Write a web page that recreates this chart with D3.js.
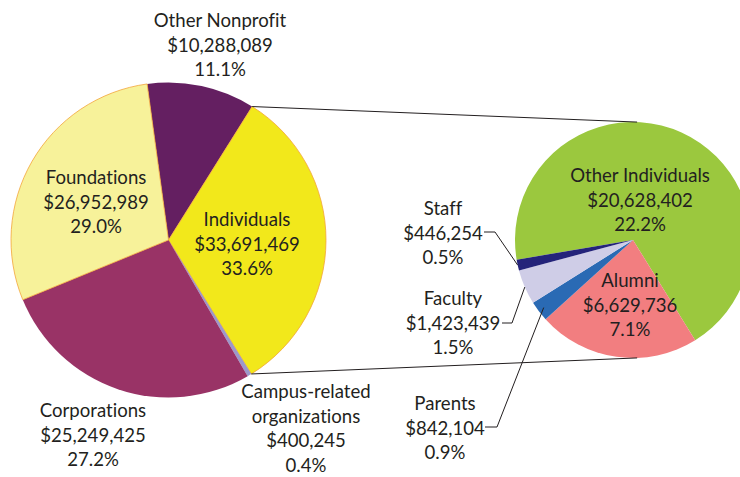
<!DOCTYPE html>
<html lang="en">
<head>
  <meta charset="UTF-8" />
  <title>Sources of Giving</title>
  <script src="https://d3js.org/d3.v7.min.js"></script>
  <style>
    body { margin: 0; background: #fff; }
    svg { display: block; }
    text {
      font-family: Lato, "Noto Sans", sans-serif;
      font-size: 18.6px;
      fill: #231f20;
      font-variant-ligatures: none;
    }
  </style>
</head>
<body>
  <svg id="chart" width="740" height="477"></svg>
  <script>
    // main pie
    const mainCategories = ["Other Nonprofit", "Individuals", "Campus-related organizations", "Corporations", "Foundations"];
    const mainAmounts = [10288089, 33691469, 400245, 25249425, 26952989];
    const mainPercents = ["11.1%", "33.6%", "0.4%", "27.2%", "29.0%"];
    const mainColors = ["#641f61", "#f2e81b", "#9c98ca", "#993366", "#f7f29a"];

    // breakdown of individuals
    const subCategories = ["Other Individuals", "Alumni", "Parents", "Faculty", "Staff"];
    const subAmounts = [20628402, 6629736, 842104, 1423439, 446254];
    const subPercents = ["22.2%", "7.1%", "0.9%", "1.5%", "0.5%"];
    const subColors = ["#9bc83e", "#f27e80", "#2a6ab4", "#cfcde7", "#24237a"];

    const fmt = d3.format("$,");
    const svg = d3.select("#chart");
    const rad = deg => deg * Math.PI / 180;

    // the drawn individuals slice is the sum of its breakdown
    const mainData = mainCategories.map((c, i) => ({
      name: c,
      amount: mainAmounts[i],
      pct: mainPercents[i],
      color: mainColors[i],
      value: c === "Individuals" ? d3.sum(subAmounts) : mainAmounts[i]
    }));
    const subData = subCategories.map((c, i) => ({
      name: c, amount: subAmounts[i], pct: subPercents[i], color: subColors[i], value: subAmounts[i]
    }));

    const M = { cx: 168.5, cy: 240, r: 157.5 };
    const S = { cx: 633, cy: 240, r: 118 };

    const mainStart = rad(-7.8);
    const mainArcs = d3.pie().sort(null).value(d => d.value)
      .startAngle(mainStart).endAngle(mainStart + 2 * Math.PI)(mainData);
    const subStart = rad(-99.6);
    const subArcs = d3.pie().sort(null).value(d => d.value)
      .startAngle(subStart).endAngle(subStart + 2 * Math.PI)(subData);

    const mainArc = d3.arc().innerRadius(0).outerRadius(M.r);
    const subArc = d3.arc().innerRadius(0).outerRadius(S.r);

    const gMain = svg.append("g").attr("transform", `translate(${M.cx},${M.cy})`);
    gMain.selectAll("path")
      .data(mainArcs)
      .join("path")
      .attr("d", mainArc)
      .attr("fill", d => d.data.color)
      .attr("stroke", d => (d.data.name === "Foundations" || d.data.name === "Individuals") ? "#f3a43a" : "none")
      .attr("stroke-width", 0.8);

    const gSub = svg.append("g").attr("transform", `translate(${S.cx},${S.cy})`);
    gSub.selectAll("path")
      .data(subArcs)
      .join("path")
      .attr("d", subArc)
      .attr("fill", d => d.data.color);

    // connector lines from the individuals slice to the breakdown pie
    const ind = mainArcs.find(d => d.data.name === "Individuals");
    const pt = (c, a, r) => [c.cx + r * Math.sin(a), c.cy - r * Math.cos(a)];
    const connectors = [
      [pt(M, ind.startAngle, M.r), pt(S, rad(2), S.r)],
      [pt(M, ind.endAngle, M.r), pt(S, rad(178), S.r)]
    ];
    svg.append("g")
      .selectAll("line")
      .data(connectors)
      .join("line")
      .attr("x1", d => d[0][0]).attr("y1", d => d[0][1])
      .attr("x2", d => d[1][0]).attr("y2", d => d[1][1])
      .attr("stroke", "#231f20")
      .attr("stroke-width", 1);

    // label anchors (center x, first baseline)
    const labelPos = {
      "Other Nonprofit": [220, 27],
      "Individuals": [247, 226],
      "Campus-related organizations": [306, 398],
      "Corporations": [93, 417],
      "Foundations": [96, 184],
      "Other Individuals": [640, 182],
      "Alumni": [630, 287],
      "Parents": [445, 410],
      "Faculty": [453, 305],
      "Staff": [443, 215]
    };
    const lineH = 24.7;

    function addLabel(d) {
      const [x, y] = labelPos[d.name];
      const lines = d.name === "Campus-related organizations"
        ? ["Campus-related", "organizations"] : [d.name];
      lines.push(fmt(d.amount), d.pct);
      const t = svg.append("text").attr("text-anchor", "middle");
      lines.forEach((s, i) => {
        t.append("tspan").attr("x", x).attr("y", y + i * lineH).text(s);
      });
    }
    mainData.forEach(addLabel);
    subData.forEach(addLabel);

    // leader lines for the small slices of the breakdown pie
    const leaders = [
      { name: "Staff", from: [484, 232], elbow: [495, 232], r: S.r },
      { name: "Faculty", from: [502, 323], elbow: [512, 323], r: S.r },
      { name: "Parents", from: [485, 427], elbow: [497, 427], r: S.r - 6 }
    ];
    svg.append("g")
      .selectAll("polyline")
      .data(leaders)
      .join("polyline")
      .attr("fill", "none")
      .attr("stroke", "#231f20")
      .attr("stroke-width", 1)
      .attr("points", d => {
        const a = subArcs.find(s => s.data.name === d.name);
        const end = pt(S, (a.startAngle + a.endAngle) / 2, d.r);
        return [d.from, d.elbow, end].map(p => p.join(",")).join(" ");
      });
  </script>
</body>
</html>
